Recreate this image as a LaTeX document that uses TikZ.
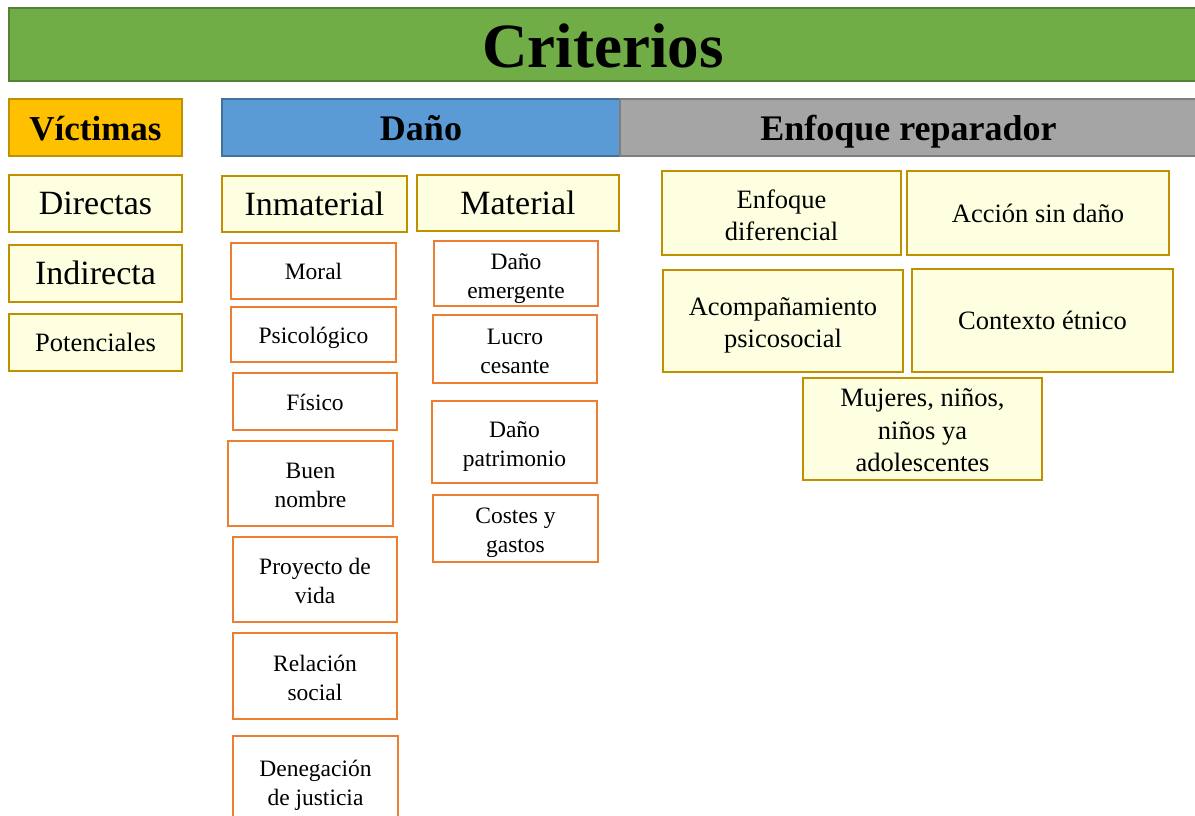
\documentclass[tikz,border=0pt]{standalone}
\usepackage{fontspec}
\setmainfont{Liberation Serif}
\definecolor{titleFill}{HTML}{70AD47}
\definecolor{titleLine}{HTML}{548235}
\definecolor{goldLine}{HTML}{BF9000}
\definecolor{paleFill}{HTML}{FEFEE0}
\definecolor{vicFill}{HTML}{FFC000}
\definecolor{blueFill}{HTML}{5B9BD5}
\definecolor{blueLine}{HTML}{41719C}
\definecolor{grayFill}{HTML}{A5A5A5}
\definecolor{grayLine}{HTML}{7F7F7F}
\definecolor{orangeLine}{HTML}{ED7D31}
% multi-line text block with struts, lowered a little inside its box
\newcommand\mt[2][4pt]{\raisebox{-#1}[\height][\depth]{\begin{tabular}{@{}c@{}}#2\end{tabular}}}
\tikzset{
  basebox/.style={draw, line width=2pt, inner sep=0pt, outer sep=0pt, text=black},
  titlebox/.style={basebox, fill=titleFill, draw=titleLine, font=\fontsize{63}{70}\selectfont\bfseries},
  headbox/.style={basebox, font=\fontsize{36}{40}\selectfont\bfseries},
  palebox/.style={basebox, fill=paleFill, draw=goldLine},
  bigtext/.style={font=\fontsize{34}{38}\selectfont},
  midtext/.style={font=\fontsize{26.5}{31.5}\selectfont},
  orbox/.style={basebox, fill=white, draw=orangeLine, font=\fontsize{23.5}{29}\selectfont},
}
\begin{document}
\begin{tikzpicture}[x=1pt,y=-1pt]
\useasboundingbox (0,0) rectangle (1195,816);
% title
\node[titlebox, minimum width=1188, minimum height=73] (title) at (603,44.5) {\mt[9pt]{Criterios}};
% headers
\node[headbox, font=\fontsize{35}{40}\selectfont\bfseries, fill=vicFill, draw=goldLine, minimum width=173, minimum height=57] (vict) at (95.5,127.5) {\mt[5pt]{Víctimas}};
\node[headbox, fill=blueFill, draw=blueLine, minimum width=398, minimum height=57] (dano) at (421,127.5) {\mt[5pt]{Daño}};
\node[headbox, fill=grayFill, draw=grayLine, minimum width=577, minimum height=57] (enfr) at (908.5,127.5) {\mt[5pt]{Enfoque reparador}};
% victimas
\node[palebox, bigtext, minimum width=173, minimum height=57] (dir) at (95.5,203.5) {\mt[3.5pt]{Directas}};
\node[palebox, bigtext, minimum width=173, minimum height=57] (ind) at (95.5,273.5) {\mt[3.5pt]{Indirecta}};
\node[palebox, font=\fontsize{26.5}{31}\selectfont, minimum width=173, minimum height=57] (pot) at (95.5,342.5) {\mt[3pt]{Potenciales}};
% dano
\node[palebox, bigtext, minimum width=185, minimum height=56] (inm) at (314.5,204) {\mt[3.5pt]{Inmaterial}};
\node[palebox, bigtext, minimum width=202, minimum height=56] (mat) at (518,203) {\mt[3.5pt]{Material}};
\node[orbox, minimum width=165, minimum height=56] (moral) at (313.5,271) {\mt[3pt]{Moral}};
\node[orbox, minimum width=165, minimum height=55] (psic) at (313.5,334.5) {\mt[3pt]{Psicológico}};
\node[orbox, minimum width=164, minimum height=57] (fis) at (315,401.5) {\mt[3pt]{Físico}};
\node[orbox, minimum width=165, minimum height=85] (buen) at (310.5,483.5) {\mt{Buen\\nombre}};
\node[orbox, minimum width=164, minimum height=85] (proy) at (315,579.5) {\mt{Proyecto de\\vida}};
\node[orbox, minimum width=164, minimum height=86] (rel) at (315,676) {\mt{Relación\\social}};
\node[orbox, minimum width=165, minimum height=90] (den) at (315.5,781) {\mt{Denegación\\de justicia}};
\node[orbox, minimum width=164, minimum height=65] (emer) at (516,273.5) {\mt[5pt]{Daño\\emergente}};
\node[orbox, minimum width=164, minimum height=68] (lucro) at (515,349) {\mt{Lucro\\cesante}};
\node[orbox, minimum width=165, minimum height=82] (patr) at (514.5,442) {\mt{Daño\\patrimonio}};
\node[orbox, minimum width=165, minimum height=67] (cost) at (515.5,528.5) {\mt{Costes y\\gastos}};
% enfoque reparador
\node[palebox, midtext, minimum width=239, minimum height=84] (efd) at (781.5,213) {\mt[5pt]{Enfoque\\diferencial}};
\node[palebox, midtext, minimum width=262, minimum height=84] (acc) at (1038,213) {\mt[3pt]{Acción sin daño}};
\node[palebox, midtext, minimum width=240, minimum height=102] (acom) at (783,321) {\mt{Acompañamiento\\psicosocial}};
\node[palebox, midtext, minimum width=261, minimum height=103] (ctx) at (1042.5,320.5) {\mt[3pt]{Contexto étnico}};
\node[palebox, font=\fontsize{26.5}{32.5}\selectfont, minimum width=239, minimum height=102] (muj) at (922.5,429) {\mt[3.5pt]{Mujeres, niños,\\niños ya\\adolescentes}};
\end{tikzpicture}
\end{document}
